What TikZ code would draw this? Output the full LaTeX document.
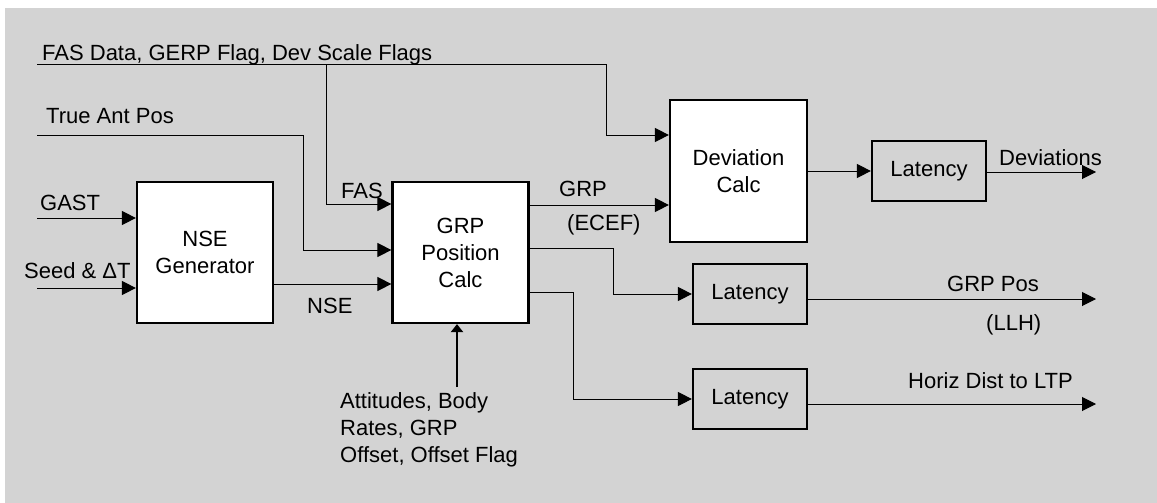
\documentclass[tikz,border=0pt]{standalone}
\usepackage{fontspec}
\setmainfont{Liberation Sans}
\usetikzlibrary{arrows.meta}
\definecolor{panelgray}{RGB}{211,211,211}

\begin{document}
\begin{tikzpicture}[x=1pt,y=-1pt,
  every node/.style={font=\fontsize{22}{27}\selectfont, inner sep=0pt},
  block/.style={draw, line width=2.2pt, fill=white, align=center},
  delay/.style={draw, line width=2.2pt, minimum width=114pt, minimum height=60pt},
  lbl/.style={anchor=base west},
  feed/.style={line width=1pt, -{Triangle[length=14pt,width=14pt]}}]
  \useasboundingbox (0,0) rectangle (1157,503);
  \fill[white] (0,0) rectangle (1157,503);
  \fill[panelgray] (5,8) rectangle (1157,503);

  \node[block, minimum width=136pt, minimum height=141pt] (nse) at (205,252.5) {NSE\\Generator};
  \node[block, minimum width=136pt, minimum height=141pt] (grp) at (460.5,252.5) {GRP\\Position\\Calc};
  \node[block, minimum width=137pt, minimum height=142pt] (dev) at (738.5,171) {Deviation\\Calc};
  \node[delay] (lat1) at (929,171) {Latency};
  \node[delay] (lat2) at (750,294) {Latency};
  \node[delay] (lat3) at (750,399) {Latency};

  \coordinate (fasin) at (37,65);
  \coordinate (fastap) at (326,65);
  \coordinate (antin) at (37,135);
  \coordinate (gastin) at (37,218);
  \coordinate (seedin) at (37,288);
  \coordinate (attin) at (457,387);
  \coordinate (devout) at (1096,172);
  \coordinate (posout) at (1096,299);
  \coordinate (ltpout) at (1096,404);

  \node[lbl] (faslbl) at (42,60) {FAS Data, GERP Flag, Dev Scale Flags};
  \node[lbl] (antlbl) at (46,124) {True Ant Pos};
  \node[lbl] (gastlbl) at (40,210) {GAST};
  \node[lbl] (seedlbl) at (24,278) {Seed \& ΔT};
  \node[lbl] (fasshort) at (341,198) {FAS};
  \node[lbl] (nselbl) at (307,313) {NSE};
  \node[lbl] (ecefa) at (559,196) {GRP};
  \node[lbl] (ecefb) at (567,230) {(ECEF)};
  \node[lbl] (devlbl) at (999,165) {Deviations};
  \node[lbl] (llha) at (947,291) {GRP Pos};
  \node[lbl] (llhb) at (986,330) {(LLH)};
  \node[lbl] (ltplbl) at (908,388) {Horiz Dist to LTP};
  \node[anchor=north west, align=left] (attlbl) at (340,392) {Attitudes, Body\\Rates, GRP\\Offset, Offset Flag};

  \draw[feed] (fasin) -- (606,65) |- ([yshift=36pt]dev.west);
  \draw[feed] (fastap) |- ([yshift=48.5pt]grp.west);
  \draw[feed] (antin) -- (303,135) |- ([yshift=2.5pt]grp.west);
  \draw[feed] (gastin) -- ([yshift=34.5pt]nse.west);
  \draw[feed] (seedin) -- ([yshift=-35.5pt]nse.west);
  \draw[feed] ([yshift=-31.5pt]nse.east) -- ([yshift=-31.5pt]grp.west);
  \draw[feed] ([yshift=47.5pt]grp.east) -- ([yshift=-34pt]dev.west);
  \draw[feed] ([yshift=4.5pt]grp.east) -- ++(84,0) |- (lat2.west);
  \draw[feed] ([yshift=-39.5pt]grp.east) -- ++(44,0) |- (lat3.west);
  \draw[feed] (dev.east) -- (lat1.west);
  \draw[feed] ([yshift=-1pt]lat1.east) -- (devout);
  \draw[feed] ([yshift=-5pt]lat2.east) -- (posout);
  \draw[feed] ([yshift=-5pt]lat3.east) -- (ltpout);
  \draw[line width=2pt, -{Triangle[length=8pt,width=12pt]}] (attin) -- ([xshift=-3.5pt]grp.south);
\end{tikzpicture}
\end{document}
